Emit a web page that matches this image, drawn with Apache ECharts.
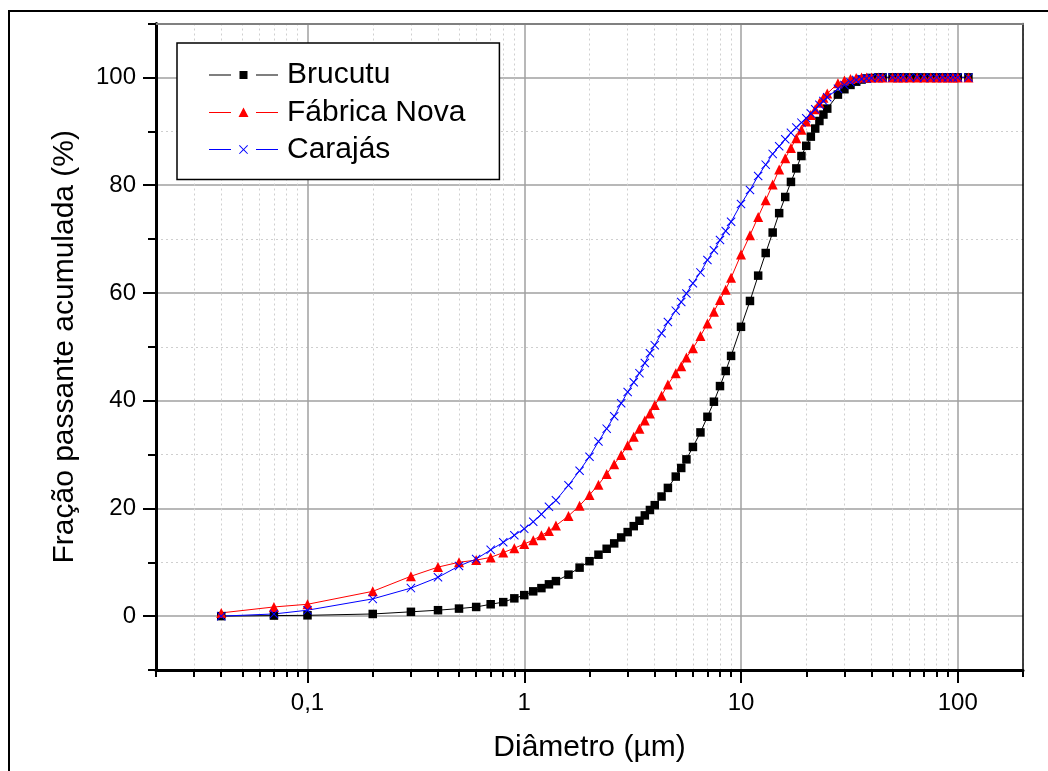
<!DOCTYPE html>
<html>
<head>
<meta charset="utf-8">
<title>Distribuição granulométrica</title>
<script src="https://cdn.jsdelivr.net/npm/echarts@6/dist/echarts.min.js"></script>
<style>
  html, body { margin: 0; padding: 0; background: #fff; }
  #chart { width: 1048px; height: 771px; }
</style>
</head>
<body>
<div id="chart"></div>
<script>
// diâmetros (µm) das classes do granulômetro
const diametros = [
  0.04, 0.07, 0.1, 0.2, 0.3, 0.4, 0.5, 0.6, 0.7, 0.8, 0.9,
  1.0, 1.1, 1.2, 1.3, 1.4,
  1.6, 1.8, 2.0, 2.2, 2.4, 2.6, 2.8, 3.0, 3.2, 3.4, 3.6, 3.8,
  4.0, 4.3, 4.6, 5.0, 5.3, 5.6, 6.0, 6.5, 7.0, 7.5, 8.0, 8.5, 9.0,
  10, 11, 12, 13, 14, 15, 16, 17, 18, 19, 20, 21, 22, 23, 24, 25,
  28, 30, 32, 34, 36, 38, 40,
  43, 45, 50, 53, 56, 60, 65, 70, 75, 80, 85, 90, 95, 100, 112
]

// fração passante acumulada (%)
const brucutu = [
  0.0, 0.1, 0.15, 0.4, 0.8, 1.1, 1.4, 1.7, 2.2, 2.6, 3.3,
  3.9, 4.6, 5.2, 5.9, 6.5,
  7.7, 9.0, 10.2, 11.4, 12.5, 13.5, 14.6, 15.6, 16.7, 17.7, 18.7, 19.7,
  20.6, 22.2, 23.8, 25.9, 27.5, 29.1, 31.4, 34.1, 37.0, 39.8, 42.7, 45.5, 48.3,
  53.7, 58.5, 63.2, 67.4, 71.2, 74.8, 77.8, 80.6, 83.1, 85.4, 87.3, 89.0, 90.5, 91.9, 93.1, 94.2,
  96.8, 97.8, 98.6, 99.2, 99.6, 99.8, 99.9,
  100, 100, 100, 100, 100, 100, 100, 100, 100, 100, 100, 100, 100, 100, 100
]
const fabricaNova = [
  0.6, 1.7, 2.2, 4.6, 7.4, 9.1, 10.0, 10.4, 10.9, 11.8, 12.6,
  13.4, 14.1, 15.0, 15.8, 16.8,
  18.6, 20.5, 22.5, 24.4, 26.4, 28.2, 29.9, 31.7, 33.3, 34.8, 36.3, 37.6,
  39.2, 40.9, 43.0, 45.1, 46.4, 48.0, 49.7, 52.0, 54.3, 56.5, 58.7, 60.6, 62.8,
  67.1, 70.7, 74.1, 77.2, 80.1, 82.9, 85.0, 86.9, 88.7, 90.3, 91.8, 93.0, 94.1, 95.3, 96.2, 97.0,
  98.9, 99.4, 99.7, 99.9, 100, 100, 100,
  100, 100, 100, 100, 100, 100, 100, 100, 100, 100, 100, 100, 100, 100, 100
]
const carajas = [
  0.0, 0.4, 1.1, 3.2, 5.2, 7.2, 9.3, 10.6, 12.3, 13.7, 15.0,
  16.2, 17.5, 18.9, 20.3, 21.5,
  24.3, 27.0, 29.6, 32.4, 34.8, 37.1, 39.5, 41.6, 43.4, 45.1, 47.0, 48.8,
  50.3, 52.5, 54.6, 56.7, 58.3, 59.9, 61.8, 63.8, 66.1, 67.9, 69.8, 71.5, 73.2,
  76.5, 79.1, 81.7, 83.8, 85.8, 87.2, 88.5, 89.7, 90.7, 91.6, 92.4, 93.3, 94.1, 94.9, 95.6, 96.3,
  97.9, 98.6, 99.1, 99.5, 99.7, 99.8, 99.9,
  100, 100, 100, 100, 100, 100, 100, 100, 100, 100, 100, 100, 100, 100, 100
]

// eixos
const xMin = 0.02
const xMax = 200
const xMajor = [0.1, 1, 10, 100]
const xMinor = [
  0.02, 0.03, 0.04, 0.05, 0.06, 0.07, 0.08, 0.09,
  0.2, 0.3, 0.4, 0.5, 0.6, 0.7, 0.8, 0.9,
  2, 3, 4, 5, 6, 7, 8, 9,
  20, 30, 40, 50, 60, 70, 80, 90, 200
]
const yMajor = [0, 20, 40, 60, 80, 100]
const yMinor = [-10, 10, 30, 50, 70, 90, 110]

const FONT = "'Liberation Sans', Arial, Helvetica, sans-serif"
const lg = (v) => Math.log10(v)

// cruz preenchida (símbolo "x" da série Carajás)
const cruz = 'path://M0,0.8L0.8,0L5,4.2L9.2,0L10,0.8L5.8,5L10,9.2L9.2,10L5,5.8L0.8,10L0,9.2L4.2,5Z'

// ícones da legenda no estilo "— marcador —"
const iconeBrucutu = 'path://M0,3.5H22V4.5H0Z M30.5,0H38.5V8H30.5Z M47,3.5H69V4.5H47Z'
const iconeFabrica = 'path://M0,4.5H22V5.5H0Z M34.5,0L39.5,9.5L29.5,9.5Z M47,4.5H69V5.5H47Z'
const iconeCarajas =
  'path://M0,4H22V5H0Z M47,4H69V5H47Z ' +
  'M30,0.7L30.7,0L34.5,3.8L38.3,0L39,0.7L35.2,4.5L39,8.3L38.3,9L34.5,5.2L30.7,9L30,8.3L33.8,4.5Z'

const chart = echarts.init(document.getElementById('chart'))

const semEixo = { show: false }

const option = {
  animation: false,
  backgroundColor: '#fff',
  textStyle: { fontFamily: FONT },
  grid: { left: 156, right: 25, top: 23.5, bottom: 101, containLabel: false },
  graphic: [
    {
      type: 'rect',
      shape: { x: 9, y: 11, width: 1200, height: 900 },
      style: { fill: 'none', stroke: '#000', lineWidth: 2 },
      silent: true,
      z: 0,
    },
  ],
  legend: {
    left: 177,
    top: 43,
    orient: 'vertical',
    align: 'left',
    backgroundColor: '#fff',
    borderColor: '#000',
    borderWidth: 1.5,
    borderRadius: 0,
    padding: [17, 34, 15, 32],
    itemWidth: 69,
    itemHeight: 11,
    itemGap: 7.3,
    textStyle: { fontSize: 30, fontFamily: FONT, color: '#000', lineHeight: 30, padding: [0, 0, 0, 4] },
    data: [
      { name: 'Brucutu', icon: iconeBrucutu },
      { name: 'Fábrica Nova', icon: iconeFabrica },
      { name: 'Carajás', icon: iconeCarajas },
    ],
  },
  xAxis: [
    {
      // eixo das séries (logarítmico)
      type: 'log',
      logBase: 10,
      min: xMin,
      max: xMax,
      position: 'bottom',
      axisLine: { show: true, onZero: false, lineStyle: { color: '#000', width: 3 } },
      axisTick: semEixo,
      axisLabel: semEixo,
      splitLine: semEixo,
      minorTick: semEixo,
      minorSplitLine: semEixo,
    },
    {
      // divisões principais (em log10)
      type: 'value',
      min: lg(xMin),
      max: lg(xMax),
      position: 'bottom',
      axisLine: { show: false, onZero: false },
      axisTick: {
        show: true,
        customValues: xMajor.map(lg),
        length: 13,
        lineStyle: { color: '#000', width: 2 },
      },
      axisLabel: {
        show: true,
        customValues: xMajor.map(lg),
        margin: 21,
        fontSize: 24,
        fontFamily: FONT,
        color: '#000',
        formatter: (v) => String(Number(Math.pow(10, v).toPrecision(6))).replace('.', ','),
      },
      splitLine: { show: true, lineStyle: { color: '#a0a0a0', width: 1.5 } },
      name: 'Diâmetro (µm)',
      nameLocation: 'middle',
      nameGap: 63,
      nameTextStyle: { fontSize: 30, fontFamily: FONT, color: '#000' },
    },
    {
      // divisões secundárias
      type: 'value',
      min: lg(xMin),
      max: lg(xMax),
      position: 'bottom',
      axisLine: { show: false, onZero: false },
      axisTick: {
        show: true,
        customValues: xMinor.map(lg),
        length: 7,
        lineStyle: { color: '#000', width: 2 },
      },
      axisLabel: semEixo,
      splitLine: { show: true, lineStyle: { color: '#cfcfcf', width: 1, type: [2, 3] } },
    },
    {
      // moldura superior
      type: 'value',
      min: 0,
      max: 1,
      position: 'top',
      axisLine: { show: true, onZero: false, lineStyle: { color: '#808080', width: 2 } },
      axisTick: semEixo,
      axisLabel: semEixo,
      splitLine: semEixo,
    },
  ],
  yAxis: [
    {
      type: 'value',
      min: -10,
      max: 110,
      position: 'left',
      axisLine: { show: true, onZero: false, lineStyle: { color: '#000', width: 3 } },
      axisTick: {
        show: true,
        customValues: yMajor,
        length: 13,
        lineStyle: { color: '#000', width: 2 },
      },
      axisLabel: {
        show: true,
        customValues: yMajor,
        margin: 20,
        fontSize: 24,
        fontFamily: FONT,
        color: '#000',
      },
      splitLine: { show: true, lineStyle: { color: '#a0a0a0', width: 1.5 } },
      name: 'Fração passante acumulada (%)',
      nameLocation: 'middle',
      nameGap: 76,
      nameTextStyle: { fontSize: 30, fontFamily: FONT, color: '#000' },
    },
    {
      type: 'value',
      min: -10,
      max: 110,
      position: 'left',
      axisLine: { show: false, onZero: false },
      axisTick: {
        show: true,
        customValues: yMinor,
        length: 8,
        lineStyle: { color: '#000', width: 2 },
      },
      axisLabel: semEixo,
      splitLine: { show: true, lineStyle: { color: '#cfcfcf', width: 1, type: [2, 3] } },
    },
    {
      // moldura direita
      type: 'value',
      min: 0,
      max: 1,
      position: 'right',
      axisLine: { show: true, onZero: false, lineStyle: { color: '#000', width: 1.5 } },
      axisTick: semEixo,
      axisLabel: semEixo,
      splitLine: semEixo,
    },
  ],
  series: [
    {
      name: 'Brucutu',
      type: 'line',
      xAxisIndex: 0,
      yAxisIndex: 0,
      data: diametros.map((d, i) => [d, brucutu[i]]),
      symbol: 'rect',
      symbolSize: 8.5,
      showAllSymbol: true,
      lineStyle: { color: '#000', width: 1 },
      itemStyle: { color: '#000' },
    },
    {
      name: 'Fábrica Nova',
      type: 'line',
      xAxisIndex: 0,
      yAxisIndex: 0,
      data: diametros.map((d, i) => [d, fabricaNova[i]]),
      symbol: 'triangle',
      symbolSize: 10,
      showAllSymbol: true,
      lineStyle: { color: '#ff0000', width: 1 },
      itemStyle: { color: '#ff0000' },
    },
    {
      name: 'Carajás',
      type: 'line',
      xAxisIndex: 0,
      yAxisIndex: 0,
      data: diametros.map((d, i) => [d, carajas[i]]),
      symbol: cruz,
      symbolSize: 9,
      showAllSymbol: true,
      lineStyle: { color: '#0000ff', width: 1 },
      itemStyle: { color: '#0000ff' },
    },
  ],
}

chart.setOption(option)
</script>
</body>
</html>
